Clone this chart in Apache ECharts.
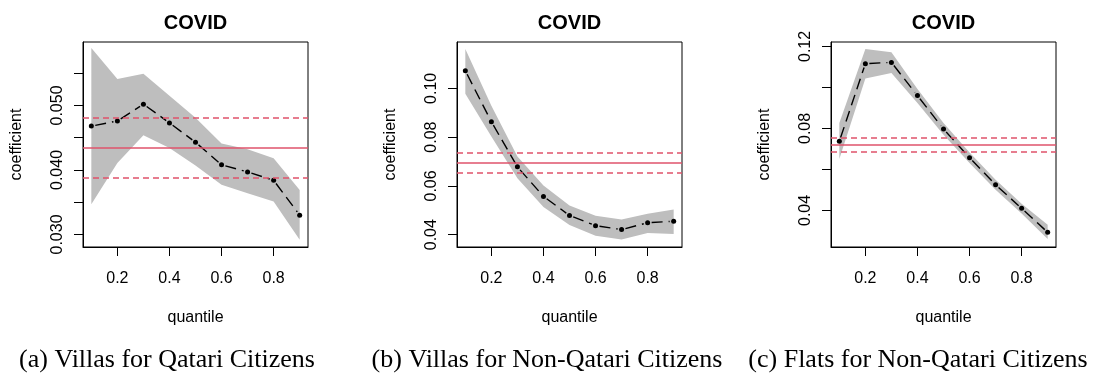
<!DOCTYPE html>
<html><head><meta charset="utf-8">
<script src="https://cdn.jsdelivr.net/npm/echarts@6/dist/echarts.min.js"></script>
<style>html,body{margin:0;padding:0;background:#fff}#c{width:1097px;height:376px}</style>
</head><body><div id="c"></div>
<script>
// ---- data ----
const quantiles = [0.1, 0.2, 0.3, 0.4, 0.5, 0.6, 0.7, 0.8, 0.9];
const xTicks = [0.2, 0.4, 0.6, 0.8];
const panelTitles = ['COVID', 'COVID', 'COVID'];
const captions = ['(a) Villas for Qatari Citizens', '(b) Villas for Non-Qatari Citizens', '(c) Flats for Non-Qatari Citizens'];

// (a) Villas for Qatari Citizens
const villasQatariCoef  = [0.0468, 0.0476, 0.0502, 0.0473, 0.0443, 0.0408, 0.0397, 0.0384, 0.0330];
const villasQatariUpper = [0.0589, 0.0541, 0.0549, 0.0515, 0.0481, 0.0441, 0.0432, 0.0418, 0.0369];
const villasQatariLower = [0.0347, 0.0411, 0.0454, 0.0434, 0.0407, 0.0377, 0.0364, 0.0351, 0.0292];
const villasQatariOLS   = [0.0435, 0.0481, 0.0388]; // estimate, upper, lower
const villasQatariYTicks  = [0.030, 0.035, 0.040, 0.045, 0.050, 0.055];
const villasQatariYLabels = [0.030, 0.040, 0.050];

// (b) Villas for Non-Qatari Citizens
const villasNonQatariCoef  = [0.1072, 0.0863, 0.0678, 0.0557, 0.0479, 0.0437, 0.0421, 0.0449, 0.0455];
const villasNonQatariUpper = [0.1161, 0.0929, 0.0721, 0.0602, 0.0520, 0.0478, 0.0462, 0.0486, 0.0503];
const villasNonQatariLower = [0.0978, 0.0803, 0.0631, 0.0514, 0.0440, 0.0396, 0.0380, 0.0407, 0.0403];
const villasNonQatariOLS   = [0.0696, 0.0737, 0.0655];
const villasNonQatariYTicks  = [0.04, 0.06, 0.08, 0.10];
const villasNonQatariYLabels = [0.04, 0.06, 0.08, 0.10];

// (c) Flats for Non-Qatari Citizens
const flatsNonQatariCoef  = [0.0737, 0.1116, 0.1122, 0.0960, 0.0797, 0.0657, 0.0525, 0.0410, 0.0293];
const flatsNonQatariUpper = [0.0826, 0.1187, 0.1171, 0.0992, 0.0826, 0.0683, 0.0550, 0.0433, 0.0330];
const flatsNonQatariLower = [0.0651, 0.1044, 0.1070, 0.0924, 0.0769, 0.0631, 0.0501, 0.0385, 0.0261];
const flatsNonQatariOLS   = [0.0721, 0.0756, 0.0686];
const flatsNonQatariYTicks  = [0.04, 0.06, 0.08, 0.10, 0.12];
const flatsNonQatariYLabels = [0.04, 0.08, 0.12];

// ---- layout ----
const SANS = 'Liberation Sans, Arial, Helvetica, sans-serif';
const SERIF = 'Liberation Serif, Times New Roman, serif';
const RED = '#DF536B';
const panels = [
  {coef: villasQatariCoef, upper: villasQatariUpper, lower: villasQatariLower, ols: villasQatariOLS,
   yTicks: villasQatariYTicks, yLabels: villasQatariYLabels, digits: 3, ymin: 0.02806, ymax: 0.05984,
   left: 83, capX: 167},
  {coef: villasNonQatariCoef, upper: villasNonQatariUpper, lower: villasNonQatariLower, ols: villasNonQatariOLS,
   yTicks: villasNonQatariYTicks, yLabels: villasNonQatariYLabels, digits: 2, ymin: 0.03496, ymax: 0.11898,
   left: 457, capX: 547},
  {coef: flatsNonQatariCoef, upper: flatsNonQatariUpper, lower: flatsNonQatariLower, ols: flatsNonQatariOLS,
   yTicks: flatsNonQatariYTicks, yLabels: flatsNonQatariYLabels, digits: 2, ymin: 0.02215, ymax: 0.12215,
   left: 831, capX: 918}
];
const GW = 225, GT = 42, GH = 205;

const grid = [], xAxis = [], yAxis = [], series = [], title = [], graphic = [];
panels.forEach((p, i) => {
  grid.push({left: p.left, top: GT, width: GW, height: GH, show: true, borderColor: '#000', borderWidth: 1, backgroundColor: 'transparent'});
  xAxis.push({
    gridIndex: i, type: 'value', min: 0.068, max: 0.932,
    axisLine: {show: true, lineStyle: {color: '#000', width: 1}},
    splitLine: {show: false},
    axisTick: {show: true, inside: false, length: 9, customValues: xTicks, lineStyle: {color: '#000', width: 1}},
    axisLabel: {customValues: xTicks, formatter: v => v.toFixed(1), fontSize: 16, color: '#000', fontFamily: SANS, margin: 24},
    name: 'quantile', nameLocation: 'middle', nameGap: 63,
    nameTextStyle: {fontSize: 16, color: '#000', fontFamily: SANS}
  });
  yAxis.push({
    gridIndex: i, type: 'value', min: p.ymin, max: p.ymax,
    axisLine: {show: true, lineStyle: {color: '#000', width: 1}},
    splitLine: {show: false},
    axisTick: {show: true, inside: false, length: 9, customValues: p.yTicks, lineStyle: {color: '#000', width: 1}},
    axisLabel: {customValues: p.yLabels, rotate: 90, formatter: v => v.toFixed(p.digits), fontSize: 16, color: '#000', fontFamily: SANS, margin: 17},
    name: 'coefficient', nameLocation: 'middle', nameRotate: 90, nameGap: 58,
    nameTextStyle: {fontSize: 16, color: '#000', fontFamily: SANS}
  });
  title.push({text: panelTitles[i], left: p.left + GW / 2, top: 13, textAlign: 'center', padding: 0,
    textStyle: {fontSize: 20, fontWeight: 'bold', color: '#000', fontFamily: SANS}});
  graphic.push({type: 'text', x: p.capX, y: 360, style: {text: captions[i], align: 'center', verticalAlign: 'middle',
    font: '26px ' + SERIF, fill: '#000'}});

  // confidence band
  series.push({
    type: 'custom', xAxisIndex: i, yAxisIndex: i, z: 1, silent: true,
    data: [[quantiles[0], p.coef[0]]],
    renderItem: (params, api) => {
      const pts = [];
      quantiles.forEach((q, k) => pts.push(api.coord([q, p.upper[k]])));
      for (let k = quantiles.length - 1; k >= 0; k--) pts.push(api.coord([quantiles[k], p.lower[k]]));
      return {type: 'polygon', shape: {points: pts}, style: {fill: '#bebebe'}};
    }
  });
  // OLS reference lines
  series.push({
    type: 'line', xAxisIndex: i, yAxisIndex: i, z: 2, data: [], silent: true,
    markLine: {
      silent: true, precision: 6, symbol: ['none', 'none'], label: {show: false},
      data: [
        {yAxis: p.ols[0], lineStyle: {color: RED, width: 1.6, type: 'solid'}},
        {yAxis: p.ols[1], lineStyle: {color: RED, width: 1.6, type: [6, 4]}},
        {yAxis: p.ols[2], lineStyle: {color: RED, width: 1.6, type: [6, 4]}}
      ]
    }
  });
  // dashed quantile-regression line with gaps at points (R type = "b")
  series.push({
    type: 'custom', xAxisIndex: i, yAxisIndex: i, z: 3, silent: true,
    data: quantiles.map((q, k) => [q, p.coef[k]]),
    renderItem: (params, api) => {
      const k = params.dataIndex;
      if (k >= quantiles.length - 1) return null;
      const a = api.coord([quantiles[k], p.coef[k]]);
      const b = api.coord([quantiles[k + 1], p.coef[k + 1]]);
      const dx = b[0] - a[0], dy = b[1] - a[1];
      const len = Math.sqrt(dx * dx + dy * dy);
      const g = 4;
      if (len <= 2 * g) return null;
      const ux = dx / len, uy = dy / len;
      return {type: 'line', shape: {x1: a[0] + ux * g, y1: a[1] + uy * g, x2: b[0] - ux * g, y2: b[1] - uy * g},
        style: {stroke: '#000', lineWidth: 1.4, lineDash: [11, 6]}};
    }
  });
  // points
  series.push({
    type: 'scatter', xAxisIndex: i, yAxisIndex: i, z: 4, silent: true,
    symbol: 'circle', symbolSize: 5, itemStyle: {color: '#000', opacity: 1},
    data: quantiles.map((q, k) => [q, p.coef[k]])
  });
});

const chart = echarts.init(document.getElementById('c'), null, {renderer: 'canvas'});
chart.setOption({animation: false, backgroundColor: '#fff', title, grid, xAxis, yAxis, series, graphic});
</script>
</body></html>
